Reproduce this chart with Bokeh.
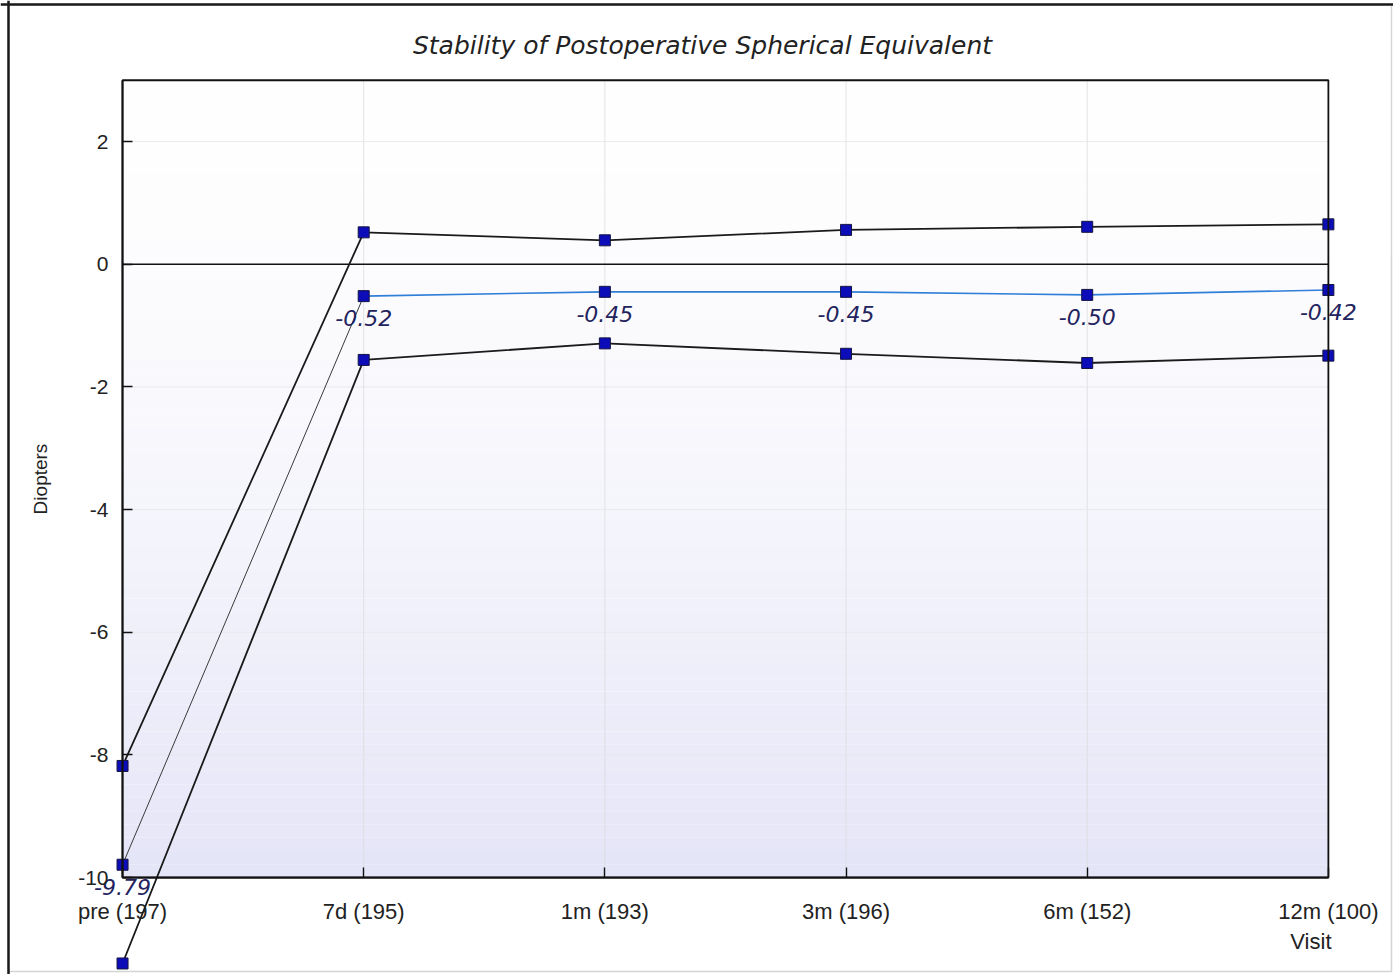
from bokeh.plotting import figure
from bokeh.models import (Range1d, FixedTicker, LinearAxis, Label, BoxAnnotation, Span,
                          ColumnDataSource)
from bokeh.core.properties import value
from bokeh.embed import file_html
from bokeh.resources import INLINE
import numpy as np

# ---- data -------------------------------------------------------------
visits = ["pre (197)", "7d (195)", "1m (193)", "3m (196)", "6m (152)", "12m (100)"]
mean_se = [-9.79, -0.52, -0.45, -0.45, -0.50, -0.42]      # mean spherical equivalent (D)
upper_se = [-8.18, 0.52, 0.39, 0.56, 0.61, 0.65]          # mean + 1 SD
lower_se = [-11.40, -1.56, -1.29, -1.46, -1.61, -1.49]    # mean - 1 SD
y_ticks = [-10, -8, -6, -4, -2, 0, 2]
y_bounds = (-10, 3)

xs = list(range(len(visits)))

W, H = 1393, 974
TICK_FONT = "Liberation Sans"
ITALIC_FONT = "DejaVu Sans"

p = figure(width=W, height=H, output_backend="svg", toolbar_location=None,
           x_range=Range1d(-0.506, 5.27), y_range=Range1d(-11.58, 4.30),
           x_axis_type=None, y_axis_type=None, min_border=0, title=None)
p.outline_line_color = None
p.background_fill_color = "white"
p.border_fill_color = "white"

# ---- plot box background: soft white-to-lavender gradient ------------
n_bands = 60
edges = np.linspace(y_bounds[0], y_bounds[1], n_bands + 1)
t = (edges[:-1] - y_bounds[0]) / (y_bounds[1] - y_bounds[0])
shade = (1 - t) ** 1.6
cols = ["#%02x%02x%02x" % (int(255 - 26 * s), int(255 - 26 * s), int(255 - 7 * s)) for s in shade]
p.quad(left=xs[0], right=xs[-1], bottom=edges[:-1], top=edges[1:],
       fill_color=cols, line_color=None, level="underlay")

# faint grid lines
p.segment(x0=xs[1:-1], y0=y_bounds[0], x1=xs[1:-1], y1=y_bounds[1],
          line_color="#d8d8dc", line_width=1, line_alpha=0.7)
gy = [v for v in y_ticks if v not in (0, y_bounds[0])]
p.segment(x0=xs[0], y0=gy, x1=xs[-1], y1=gy, line_color="#e6e6ea", line_width=1, line_alpha=0.8)

# zero reference line
p.segment(x0=[xs[0]], y0=[0], x1=[xs[-1]], y1=[0], line_color="#111111", line_width=1.6)

# plot box outline
p.add_layout(BoxAnnotation(left=xs[0], right=xs[-1], bottom=y_bounds[0], top=y_bounds[1],
                           fill_color=None, fill_alpha=0, line_color="#111111",
                           line_alpha=1.0, line_width=1.8))

# ---- axes -------------------------------------------------------------
yaxis = LinearAxis(ticker=FixedTicker(ticks=y_ticks), bounds=y_bounds, fixed_location=xs[0],
                   axis_label="Diopters",
                   major_label_overrides={v: str(v) for v in y_ticks})
yaxis.major_tick_in = 10
yaxis.major_tick_out = 0
yaxis.minor_tick_line_color = None
yaxis.major_label_standoff = 14
yaxis.axis_line_color = "#111111"
yaxis.axis_line_width = 1.8
yaxis.major_tick_line_color = "#111111"
yaxis.major_tick_line_width = 1.4
yaxis.major_label_text_font = TICK_FONT
yaxis.major_label_text_font_size = "21px"
yaxis.major_label_text_color = "#222222"
yaxis.axis_label_text_font = TICK_FONT
yaxis.axis_label_text_font_style = "normal"
yaxis.axis_label_text_font_size = "19px"
yaxis.axis_label_text_color = "#222222"
yaxis.axis_label_standoff = 24
p.add_layout(yaxis, "left")

xaxis = LinearAxis(ticker=FixedTicker(ticks=xs), bounds=(xs[0], xs[-1]), fixed_location=y_bounds[0],
                   major_label_overrides={i: v for i, v in zip(xs, visits)})
xaxis.major_tick_in = 10
xaxis.major_tick_out = 0
xaxis.minor_tick_line_color = None
xaxis.major_label_standoff = 21
xaxis.axis_line_color = "#111111"
xaxis.axis_line_width = 1.8
xaxis.major_tick_line_color = "#111111"
xaxis.major_tick_line_width = 1.4
xaxis.major_label_text_font = TICK_FONT
xaxis.major_label_text_font_size = "22px"
xaxis.major_label_text_color = "#222222"
p.add_layout(xaxis, "below")

# ---- series -------------------------------------------------------------
p.line(xs, upper_se, line_color="#1a1a1a", line_width=1.8)
p.line(xs, lower_se, line_color="#1a1a1a", line_width=1.8)
p.line(xs[:2], mean_se[:2], line_color="#3a3a3a", line_width=1.0)
p.line(xs[1:], mean_se[1:], line_color="#2f7ed8", line_width=1.6)

for series in (upper_se, mean_se, lower_se):
    p.scatter(xs, series, marker="square", size=11,
              fill_color="#0c0cb8", line_color="#151540", line_width=1)

src = ColumnDataSource(dict(x=xs, y=mean_se, lab=[f"{v:.2f}" for v in mean_se]))
p.text(x="x", y="y", text="lab", source=src, y_offset=22,
       text_align="center", text_baseline="middle",
       text_font=value(ITALIC_FONT), text_font_style="italic", text_font_size="22px",
       text_color="#23235e")

# ---- titles and outer frame -------------------------------------------
p.add_layout(Label(x=702, y=45, x_units="canvas", y_units="canvas",
                   text="Stability of Postoperative Spherical Equivalent",
                   text_align="center", text_baseline="middle",
                   text_font=ITALIC_FONT, text_font_style="italic",
                   text_font_size="25px", text_color="#222222"))
p.add_layout(Label(x=1331, y=941, x_units="canvas", y_units="canvas",
                   text="Visit", text_align="right", text_baseline="middle",
                   text_font=TICK_FONT, text_font_size="22px", text_color="#222222"))

p.add_layout(BoxAnnotation(left=8, right=1391, top=4, bottom=971,
                           left_units="canvas", right_units="canvas",
                           top_units="canvas", bottom_units="canvas",
                           fill_color=None, fill_alpha=0, line_color="#d4d4d4",
                           line_alpha=1.0, line_width=1.5))
p.add_layout(Span(location=8, dimension="height", location_units="canvas",
                  line_color="#1a1a1a", line_width=2.5))
p.add_layout(Span(location=4, dimension="width", location_units="canvas",
                  line_color="#1a1a1a", line_width=2.5))

open("out.html", "w").write(file_html(p, INLINE))
